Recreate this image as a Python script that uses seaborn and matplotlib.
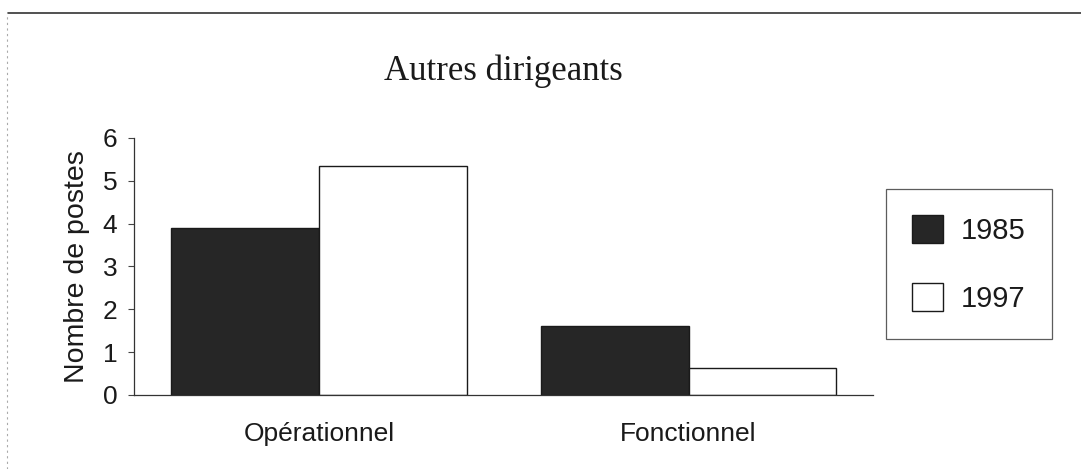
import matplotlib
matplotlib.use("Agg")
import matplotlib.pyplot as plt
from matplotlib.lines import Line2D
import seaborn as sns
import pandas as pd

categories = ["Opérationnel", "Fonctionnel"]
years = ["1985", "1997"]
values_1985 = [3.9, 1.6]
values_1997 = [5.35, 0.63]
yticks = [0, 1, 2, 3, 4, 5, 6]
title = "Autres dirigeants"
ylabel = "Nombre de postes"

df = pd.DataFrame({
    "cat": categories * 2,
    "year": [years[0]] * len(categories) + [years[1]] * len(categories),
    "val": values_1985 + values_1997,
})

sns.set_theme(style="white")
plt.rcParams["font.family"] = ["Liberation Sans", "DejaVu Sans"]

fig = plt.figure(figsize=(10.81, 4.69), dpi=100)
ax = fig.add_axes([0.124, 0.158, 0.684, 0.548])

sns.barplot(data=df, x="cat", y="val", hue="year", order=categories,
            hue_order=years, palette=["#262626", "#ffffff"],
            edgecolor="#1a1a1a", linewidth=1.0, width=0.8, ax=ax,
            legend=True)

ax.set_ylim(0, 6)
ax.set_xlim(-0.5, 1.5)
ax.set_yticks(yticks)
ax.set_yticklabels([str(t) for t in yticks], fontsize=19, color="#1a1a1a")
ax.tick_params(axis="y", which="both", left=True, length=4, width=0.8,
               color="#444444", pad=8)
ax.tick_params(axis="x", bottom=False, pad=13.5, labelsize=19,
               labelcolor="#1a1a1a")
ax.set_xlabel("")
ax.set_ylabel(ylabel, fontsize=20.5, color="#1a1a1a", labelpad=9)
for s in ["top", "right"]:
    ax.spines[s].set_visible(False)
for s in ["left", "bottom"]:
    ax.spines[s].set_color("#333333")
    ax.spines[s].set_linewidth(0.9)
ax.spines["left"].set_linestyle((0, (3, 1)))

leg = ax.legend(loc="upper left", bbox_to_anchor=(886 / 1081, 1 - 189 / 469),
                bbox_transform=fig.transFigure, frameon=True, fancybox=False,
                fontsize=21, handlelength=1.05, handleheight=1.1,
                handletextpad=0.62, labelspacing=1.3, borderpad=0.9,
                borderaxespad=0)
leg.get_frame().set_edgecolor("#333333")
leg.get_frame().set_linewidth(0.9)
for t in leg.get_texts():
    t.set_color("#1a1a1a")

fig.text(503 / 1081, 1 - 71 / 469, title, ha="center", va="center",
         fontsize=25, family=["Liberation Serif", "DejaVu Serif"],
         color="#1a1a1a")

# outer frame of the scanned page
fig.add_artist(Line2D([8 / 1081, 1.0], [1 - 13 / 469, 1 - 13 / 469],
                      transform=fig.transFigure, color="#333333", lw=1.2))
fig.add_artist(Line2D([7 / 1081, 7 / 1081], [0, 1 - 13 / 469],
                      transform=fig.transFigure, color="#aaaaaa", lw=0.8,
                      linestyle=(0, (2, 3))))

fig.savefig("out.png", dpi=100, facecolor="white")
